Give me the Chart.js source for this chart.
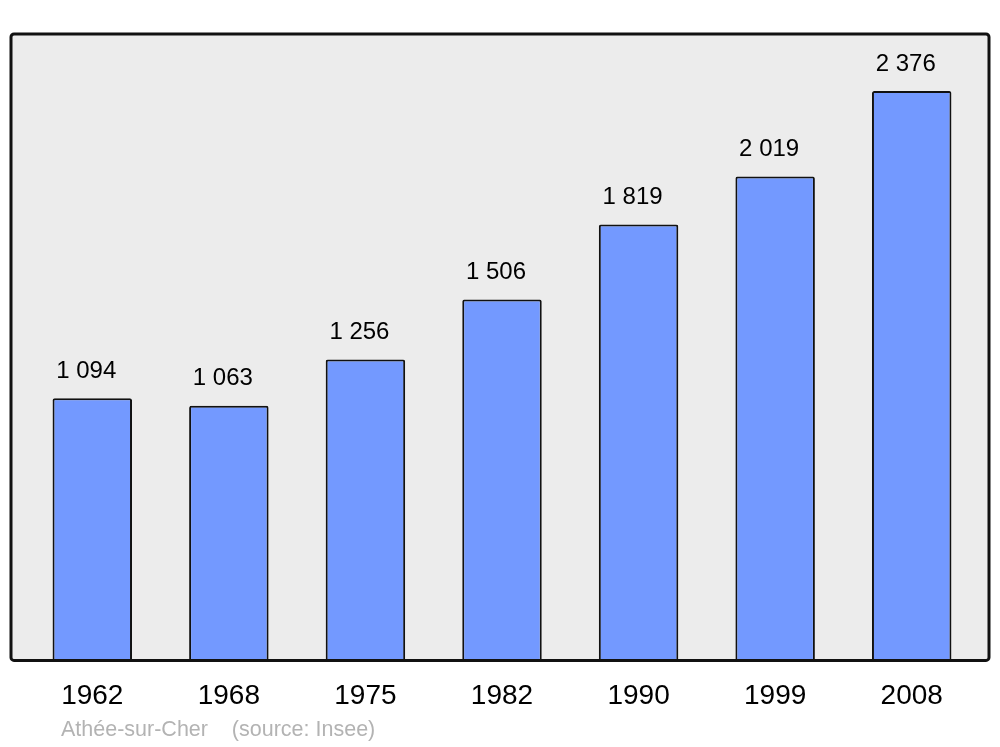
<!DOCTYPE html>
<html>
<head>
<meta charset="utf-8">
<script src="https://cdn.jsdelivr.net/npm/chart.js@4/dist/chart.umd.min.js"></script>
<style>
html,body{margin:0;padding:0;background:#fff;}
canvas{display:block;}
</style>
</head>
<body>
<canvas id="c" width="1000" height="747"></canvas>
<script>
const years = ["1962","1968","1975","1982","1990","1999","2008"];
const population = [1094, 1063, 1256, 1506, 1819, 2019, 2376];
const valueLabels = ["1 094","1 063","1 256","1 506","1 819","2 019","2 376"];
const sourceText = "Athée-sur-Cher    (source: Insee)";

const FONT = "'Liberation Sans', Arial, sans-serif";

const framePlugin = {
  id: 'frame',
  beforeDatasetsDraw(chart) {
    const {ctx, chartArea: a} = chart;
    ctx.save();
    ctx.fillStyle = '#ececec';
    roundRect(ctx, a.left - 13, a.top, a.right - a.left + 22, a.bottom - a.top, 3);
    ctx.fill();
    ctx.restore();
  },
  afterDatasetsDraw(chart) {
    const {ctx, chartArea: a} = chart;
    ctx.save();
    ctx.strokeStyle = '#111';
    ctx.lineWidth = 3;
    roundRect(ctx, a.left - 13, a.top, a.right - a.left + 22, a.bottom - a.top, 3);
    ctx.stroke();
    // value labels
    const meta = chart.getDatasetMeta(0);
    ctx.fillStyle = '#000';
    ctx.font = '24px ' + FONT;
    ctx.textAlign = 'center';
    ctx.textBaseline = 'middle';
    meta.data.forEach((bar, i) => {
      ctx.fillText(valueLabels[i], bar.x - 6, bar.y - 27);
    });
    // source
    ctx.fillStyle = '#b3b3b3';
    ctx.font = '21.5px ' + FONT;
    ctx.textAlign = 'left';
    ctx.fillText(sourceText, a.left + 37, 730);
    ctx.restore();
  }
};

function roundRect(ctx, x, y, w, h, r) {
  ctx.beginPath();
  ctx.moveTo(x + r, y);
  ctx.lineTo(x + w - r, y);
  ctx.arcTo(x + w, y, x + w, y + r, r);
  ctx.lineTo(x + w, y + h - r);
  ctx.arcTo(x + w, y + h, x + w - r, y + h, r);
  ctx.lineTo(x + r, y + h);
  ctx.arcTo(x, y + h, x, y + h - r, r);
  ctx.lineTo(x, y + r);
  ctx.arcTo(x, y, x + r, y, r);
  ctx.closePath();
}

new Chart(document.getElementById('c'), {
  type: 'bar',
  data: {
    labels: years,
    datasets: [{
      data: population,
      backgroundColor: '#7399ff',
      borderColor: '#111',
      borderWidth: 2,
      borderRadius: {topLeft: 2, topRight: 2, bottomLeft: 0, bottomRight: 0},
      borderSkipped: 'bottom',
      barPercentage: 0.582,
      categoryPercentage: 1
    }]
  },
  options: {
    responsive: false,
    animation: false,
    events: [],
    layout: {padding: {left: 24, right: 20, top: 34, bottom: 15}},
    plugins: {legend: {display: false}, tooltip: {enabled: false}},
    scales: {
      x: {
        grid: {display: false, drawTicks: false, tickLength: 0},
        border: {display: false},
        ticks: {color: '#000', font: {size: 28, family: FONT}, padding: 19, maxRotation: 0}
      },
      y: {
        display: false,
        min: 0,
        max: 2614
      }
    }
  },
  plugins: [framePlugin]
});
</script>
</body>
</html>
